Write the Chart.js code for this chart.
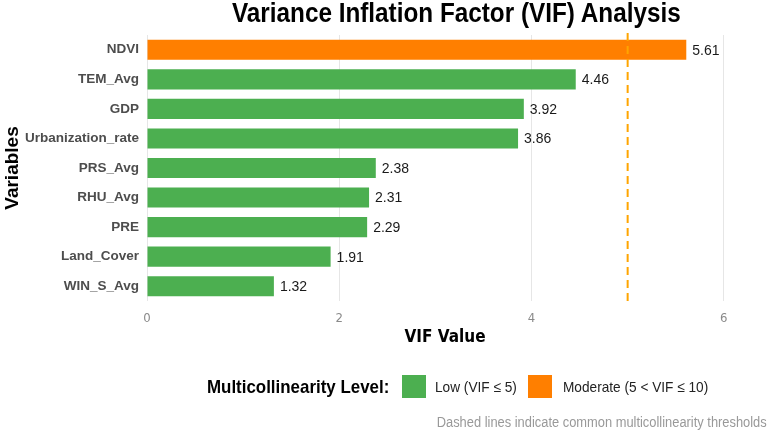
<!DOCTYPE html>
<html>
<head>
<meta charset="utf-8">
<script src="https://cdn.jsdelivr.net/npm/chart.js@4.4.0/dist/chart.umd.min.js"></script>
<style>
    body { margin: 0; background: #fff; }
    #wrap { position: relative; width: 770px; height: 433px; overflow: hidden; font-family: "Liberation Sans", Arial, sans-serif; }
    /* sem Arial Narrow: comprime a Liberation Sans */
    .estreita { display: inline-block; white-space: nowrap; transform: scaleX(0.91); transform-origin: left center; }
    .abs { position: absolute; }
    #titulo { left: 0; width: 912px; top: -2px; text-align: center; font-size: 27px; font-weight: bold; color: #000; }
    #titulo .estreita { transform: scaleX(0.9); transform-origin: center center; }
    .nome { font-size: 19px; font-weight: bold; color: #000; }
    .nome .estreita { transform: scaleX(0.89); }
    .caixa { width: 24px; height: 23px; }
    .rotulo { font-size: 15px; color: #222; }
    #rodape { right: 3px; top: 414px; font-size: 14px; color: #999; }
    #rodape .estreita { transform: scaleX(0.92); transform-origin: right center; }
</style>
</head>
<body>
<div id="wrap">
    <canvas id="graficoVif" width="770" height="433"></canvas>
    <div id="titulo" class="abs"><span class="estreita">Variance Inflation Factor (VIF) Analysis</span></div>
    <div class="abs nome" style="left:207px; top:376px"><span class="estreita">Multicollinearity Level:</span></div>
    <div class="abs caixa" style="left:402px; top:375px; background:#4CAF50"></div>
    <div class="abs rotulo" style="left:435px; top:378px"><span class="estreita">Low (VIF ≤ 5)</span></div>
    <div class="abs caixa" style="left:528px; top:375px; background:#FF7F00"></div>
    <div class="abs rotulo" style="left:563px; top:378px"><span class="estreita">Moderate (5 &lt; VIF ≤ 10)</span></div>
    <div id="rodape" class="abs"><span class="estreita">Dashed lines indicate common multicollinearity thresholds</span></div>
</div>
<script>
var variaveis = ['NDVI', 'TEM_Avg', 'GDP', 'Urbanization_rate', 'PRS_Avg', 'RHU_Avg', 'PRE', 'Land_Cover', 'WIN_S_Avg'];
var valoresVif = [5.61, 4.46, 3.92, 3.86, 2.38, 2.31, 2.29, 1.91, 1.32];
var marcasX = [0, 2, 4, 6];
var limiteModerado = 5;

var corBaixo = '#4CAF50';
var corModerado = '#FF7F00';
var fonteEstreita = '"DejaVu Sans Condensed", "Liberation Sans", sans-serif';
var fonteNormal = '"Liberation Sans", Arial, sans-serif';

var cores = valoresVif.map(function (v) {
    return v > limiteModerado ? corModerado : corBaixo;
});

// linha tracejada do limite e rotulos no fim das barras
var extras = {
    id: 'extras',
    afterDatasetsDraw: function (chart) {
        var ctx = chart.ctx;
        var area = chart.chartArea;
        var x = chart.scales.x.getPixelForValue(limiteModerado);

        ctx.save();
        ctx.setLineDash([8, 5]);
        ctx.strokeStyle = '#FFA500';
        ctx.lineWidth = 2;
        ctx.beginPath();
        ctx.moveTo(x, area.top - 2);
        ctx.lineTo(x, area.bottom + 2);
        ctx.stroke();
        ctx.restore();

        ctx.save();
        ctx.font = '14px ' + fonteNormal;
        ctx.fillStyle = '#1a1a1a';
        ctx.textAlign = 'left';
        ctx.textBaseline = 'middle';
        chart.getDatasetMeta(0).data.forEach(function (barra, i) {
            ctx.fillText(valoresVif[i].toFixed(2), barra.x + 6, barra.y + 1);
        });
        ctx.restore();
    }
};

new Chart(document.getElementById('graficoVif').getContext('2d'), {
    type: 'bar',
    data: {
        labels: variaveis,
        datasets: [{
            data: valoresVif,
            backgroundColor: cores,
            categoryPercentage: 1,
            barPercentage: 0.68,
        }],
    },
    options: {
        indexAxis: 'y',
        responsive: false,
        animation: false,
        layout: { padding: { top: 35, right: 27, bottom: 82, left: 0 } },
        plugins: {
            legend: { display: false },
            tooltip: { enabled: false },
        },
        scales: {
            x: {
                min: 0,
                max: 6.2,
                afterBuildTicks: function (scale) {
                    scale.ticks = marcasX.map(function (v) { return { value: v }; });
                },
                afterFit: function (scale) { scale.height = 50; },
                grid: { color: '#e6e6e6', lineWidth: 1, drawTicks: false },
                border: { display: false },
                ticks: {
                    padding: 10,
                    color: '#8a8a8a',
                    font: { family: fonteEstreita, size: 13 },
                },
                title: {
                    display: true,
                    text: 'VIF Value',
                    color: '#000',
                    padding: { top: 3, bottom: 3 },
                    font: { family: fonteEstreita, size: 17, weight: 'bold' },
                },
            },
            y: {
                afterFit: function (scale) { scale.width = 147; },
                grid: { display: false, drawTicks: false },
                border: { display: false },
                ticks: {
                    padding: 8,
                    color: '#4d4d4d',
                    font: { family: fonteNormal, size: 13.5, weight: 'bold' },
                },
                title: {
                    display: true,
                    text: 'Variables',
                    color: '#000',
                    padding: { top: 1, bottom: 0 },
                    font: { family: fonteNormal, size: 19, weight: 'bold' },
                },
            },
        },
    },
    plugins: [extras],
});
</script>
</body>
</html>
